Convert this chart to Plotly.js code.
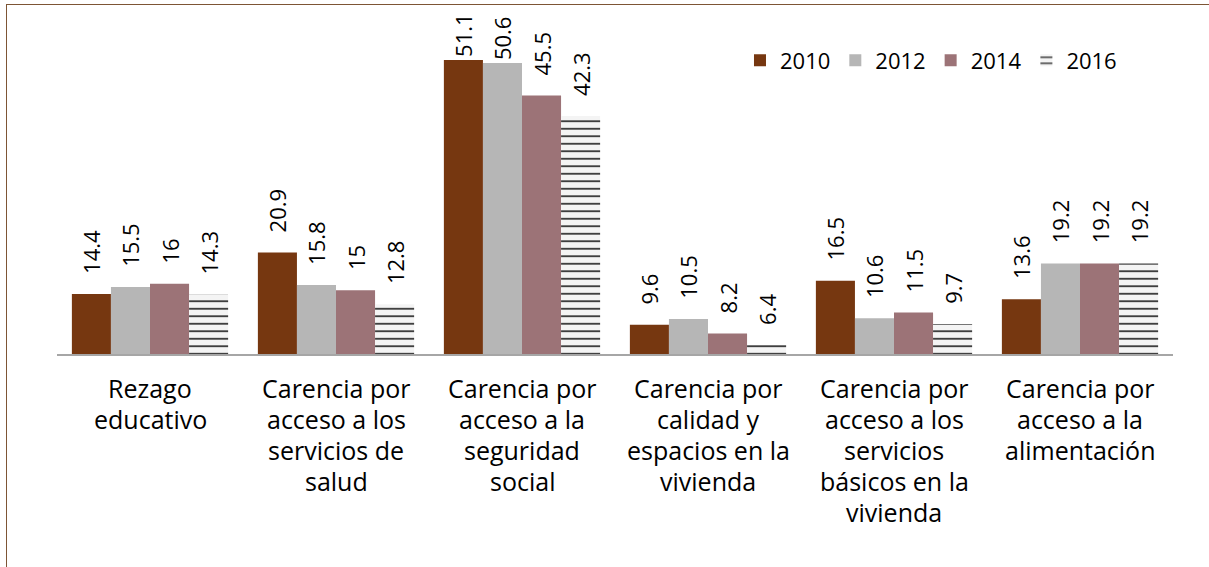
<!DOCTYPE html>
<html>
<head>
<meta charset="utf-8">
<script src="https://cdn.plot.ly/plotly-3.0.1.min.js"></script>
<style>
  html, body { margin: 0; padding: 0; background: #fff; overflow: hidden; }
  #chart { width: 1209px; height: 567px; }
  #frame { position: absolute; left: 6px; top: 4px; width: 1400px; height: 800px;
           border-left: 1.5px solid #7d5535; border-top: 1.5px solid #7d5535; pointer-events: none; }
</style>
</head>
<body>
<div id="chart"></div>
<div id="frame"></div>
<script>
const categories = [
  'Rezago<br>educativo',
  'Carencia por<br>acceso a los<br>servicios de<br>salud',
  'Carencia por<br>acceso a la<br>seguridad<br>social',
  'Carencia por<br>calidad y<br>espacios en la<br>vivienda',
  'Carencia por<br>acceso a los<br>servicios<br>básicos en la<br>vivienda',
  'Carencia por<br>acceso a la<br>alimentación'
];
const years = ['2010', '2012', '2014', '2016'];
const v2010 = [14.4, 20.9, 51.1, 9.6, 16.5, 13.6];
const v2012 = [15.5, 15.8, 50.6, 10.5, 10.6, 19.2];
const v2014 = [16, 15, 45.5, 8.2, 11.5, 19.2];
const v2016 = [14.3, 12.8, 42.3, 6.4, 9.7, 19.2];

const FONT = '"Open Sans", Lato, sans-serif';
const pad = '\u00a0\u00a0\u00a0';
function labels(vals) {
  return vals.map(v => (v > 48 ? '' : pad) + String(v));
}

const common = {
  type: 'bar', x: categories, textposition: 'outside', textangle: -90,
  cliponaxis: false, constraintext: 'none',
  textfont: { family: FONT, size: 22, color: '#000' },
  hoverinfo: 'none'
};

const traces = [
  Object.assign({}, common, { name: years[0], y: v2010, text: labels(v2010),
    marker: { color: '#763710', line: { width: 0 } } }),
  Object.assign({}, common, { name: years[1], y: v2012, text: labels(v2012),
    marker: { color: '#b6b6b6', line: { width: 0 } } }),
  Object.assign({}, common, { name: years[2], y: v2014, text: labels(v2014),
    marker: { color: '#9c7377', line: { width: 0 } } }),
  Object.assign({}, common, { name: years[3], y: v2016, text: labels(v2016),
    marker: { color: '#ffffff', line: { width: 0 },
      pattern: { shape: '-', fgcolor: '#111', bgcolor: '#f4f4f4', size: 7.5, solidity: 0.2 } } })
];

const annotations = [];
categories.forEach((c, ci) => {
  c.split('<br>').forEach((line, li) => {
    annotations.push({
      x: c, xref: 'x', y: 0, yref: 'paper', yanchor: 'middle', xanchor: 'center',
      yshift: -34 - li * 31, text: line, showarrow: false,
      font: { family: FONT, size: 25, color: '#000' }
    });
  });
});

const layout = {
  width: 1209, height: 567,
  margin: { l: 57, r: 36, t: 35, b: 213 },
  paper_bgcolor: '#fff', plot_bgcolor: '#fff',
  barmode: 'group', bargap: 0.16, bargroupgap: 0,
  showlegend: true,
  legend: {
    orientation: 'h', x: 0.612, xanchor: 'left', y: 0.92, yanchor: 'middle',
    font: { family: FONT, size: 22, color: '#000' },
    bgcolor: 'rgba(0,0,0,0)', traceorder: 'normal', itemclick: false
  },
  xaxis: {
    showticklabels: false, ticks: '', showgrid: false, zeroline: false,
    showline: true, linecolor: '#a6a6a6', linewidth: 2, fixedrange: true
  },
  yaxis: {
    range: [5, 55], visible: false, showgrid: false, zeroline: false, fixedrange: true
  },
  annotations: annotations,
  font: { family: FONT }
};

Plotly.newPlot('chart', traces, layout, { staticPlot: true, displayModeBar: false });
</script>
</body>
</html>
